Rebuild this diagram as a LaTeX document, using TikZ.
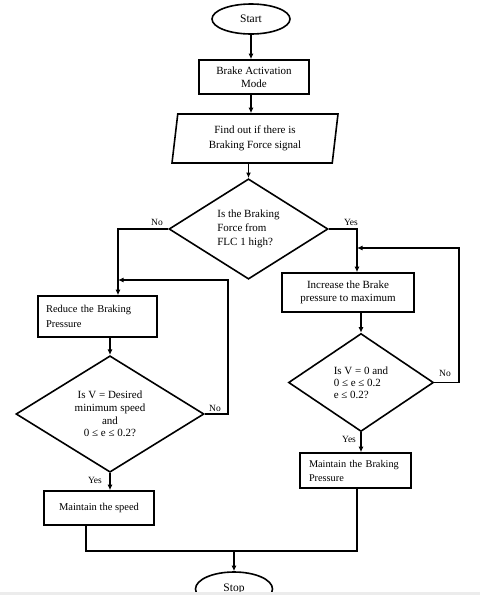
\documentclass[tikz,border=0pt]{standalone}
\usepackage{fontspec}
\setmainfont{Liberation Serif}
\usetikzlibrary{arrows.meta,shapes.geometric,positioning}

\begin{document}
\begin{tikzpicture}[x=1pt,y=-1pt,>={Latex[length=5.5pt,width=5pt]},line width=1.6pt,
  every node/.style={font=\fontsize{11}{13.5}\selectfont},
  box/.style={draw,rectangle,inner sep=2pt,align=center},
  dec/.style={draw,diamond,inner sep=0pt},
  term/.style={draw,ellipse,inner sep=0pt,font=\fontsize{11.5}{13}\selectfont},
  lbl/.style={font=\fontsize{9.5}{10}\selectfont,inner sep=1pt}]
\useasboundingbox (0,0) rectangle (480,595);
\node[term,minimum width=78pt,minimum height=30pt] (start) at (251,19) {Start};
\node[box,minimum width=110pt,minimum height=34pt] (bam) at (254,77) {Brake Activation\\Mode};
\node[draw,trapezium,trapezium left angle=78,trapezium right angle=102,trapezium stretches body,
  minimum width=166pt,minimum height=49pt,inner sep=1pt,align=center,font=\fontsize{11}{15}\selectfont] (find) at (255,138.5)
  {Find out if there is\\Braking Force signal};
\node[dec,minimum width=159pt,minimum height=96pt,align=left,font=\fontsize{11}{14}\selectfont] (d1) at (248.5,229)
  {Is the Braking\\Force from\\FLC 1 high?};
\node[box,minimum width=119pt,minimum height=41pt,text width=103pt,align=left,font=\fontsize{10.5}{15}\selectfont] (reduce) at (97.5,316.5)
  {Reduce the Braking\\Pressure};
\node[dec,minimum width=188pt,minimum height=116pt,align=center,font=\fontsize{11}{12.7}\selectfont] (d2) at (110,414)
  {Is V = Desired\\minimum speed\\and\\0 ≤ e ≤ 0.2?};
\node[box,minimum width=110pt,minimum height=34pt,font=\fontsize{10.5}{13}\selectfont] (speed) at (99,508) {Maintain the speed};
\node[box,minimum width=132pt,minimum height=39pt] (inc) at (348,292.5) {Increase the Brake\\pressure to maximum};
\node[dec,minimum width=145pt,minimum height=98pt,align=left,font=\fontsize{11}{12}\selectfont] (d3) at (361,382.5)
  {Is V = 0 and\\0 ≤ e ≤ 0.2\\e ≤ 0.2?};
\node[box,minimum width=111pt,minimum height=35pt,text width=93pt,align=left,font=\fontsize{10.3}{14}\selectfont] (mbp) at (355.5,470.5)
  {Maintain the Braking\\Pressure};
\node[term,minimum width=77pt,minimum height=34pt] (stop) at (234,589) {Stop};
\coordinate (lmerge) at (118,280);
\coordinate (rmerge) at (357,248);
\coordinate (jn) at (234,551);
\node[lbl] (no1) at (157,222) {No};
\node[lbl] (yes1) at (351,222) {Yes};
\node[lbl] (no2) at (215,408) {No};
\node[lbl] (yes2) at (95,480) {Yes};
\node[lbl] (no3) at (445,373) {No};
\node[lbl] (yes3) at (349,439) {Yes};
\draw[->] (start.south) -- (start.south |- bam.north);
\draw[->] (start.south |- bam.south) -- (start.south |- find.north);
\draw[->] (d1.north |- find.south) -- (d1.north);
\draw[->] (d1.west) -| (lmerge |- reduce.north);
\draw[->] (d1.east) -| (rmerge |- inc.north);
\draw[->] (d2.north |- reduce.south) -- (d2.north);
\draw[->] (d2.east) -- ++(23,0) |- (lmerge);
\draw[->] (d2.south) -- (d2.south |- speed.north);
\draw[->] (d3.north |- inc.south) -- (d3.north);
\draw[->] (d3.east) -- ++(24.5,0) |- (rmerge);
\draw[->] (d3.south) -- (d3.south |- mbp.north);
\draw ([xshift=-13pt]speed.south) |- (jn);
\draw ([xshift=1.5pt]mbp.south) |- (jn);
\draw[->] (jn) -- (stop.north);
\fill[gray!15] (0,592) rectangle (480,595);
\end{tikzpicture}
\end{document}
